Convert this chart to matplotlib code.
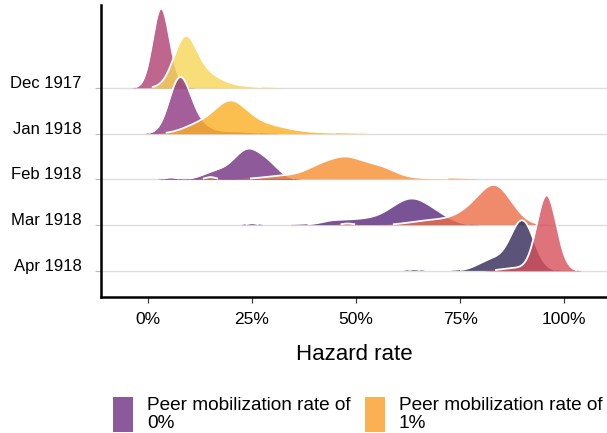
import numpy as np
import matplotlib.pyplot as plt
from matplotlib.patches import Rectangle

plt.rcParams['font.family'] = ['Liberation Sans', 'DejaVu Sans']

# Rows, top to bottom
months = ["Dec 1917", "Jan 1918", "Feb 1918", "Mar 1918", "Apr 1918"]

# density bumps per row: (centre, sd, height in row units)
dens_0pct = [
    [(0.031, 0.02, 1.7), (0.06, 0.02, 0.1)],
    [(0.075, 0.025, 1.1), (0.11, 0.03, 0.25), (0.2, 0.05, 0.05)],
    [(0.24, 0.035, 0.65), (0.295, 0.025, 0.2), (0.16, 0.03, 0.15), (0.055, 0.015, 0.04)],
    [(0.635, 0.05, 0.57), (0.5, 0.06, 0.12), (0.71, 0.03, 0.05),
     (0.25, 0.012, 0.04), (0.44, 0.02, 0.03)],
    [(0.9, 0.028, 1.07), (0.83, 0.035, 0.25), (0.64, 0.012, 0.035)],
]
dens_1pct = [
    [(0.088, 0.027, 0.95), (0.13, 0.04, 0.3), (0.2, 0.06, 0.04)],
    [(0.195, 0.04, 0.62), (0.115, 0.035, 0.15), (0.27, 0.06, 0.2), (0.42, 0.06, 0.02)],
    [(0.475, 0.04, 0.43), (0.41, 0.035, 0.2), (0.33, 0.05, 0.08), (0.555, 0.04, 0.25),
     (0.15, 0.012, 0.05), (0.68, 0.06, 0.025)],
    [(0.835, 0.04, 0.82), (0.77, 0.04, 0.2), (0.68, 0.05, 0.1), (0.48, 0.015, 0.035)],
    [(0.958, 0.024, 1.65), (0.88, 0.03, 0.06)],
]

colors_0pct = ["#b04073", "#8d3681", "#723181", "#59277c", "#332956"]
colors_1pct = ["#f6d656", "#fbb024", "#f78f31", "#eb6d45", "#d6505a"]

xticks = [0, 0.25, 0.5, 0.75, 1.0]
xticklabels = ["0%", "25%", "50%", "75%", "100%"]

legend_labels = ["Peer mobilization rate of\n0%", "Peer mobilization rate of\n1%"]
legend_colors = ["#8b5a9a", "#fbb053"]

x = np.linspace(-0.12, 1.12, 1500)


def density(bumps):
    return sum(h * np.exp(-0.5 * ((x - c) / s) ** 2) for c, s, h in bumps)


fig = plt.figure(figsize=(6.07, 4.33), dpi=100)
ax = fig.add_axes([0.1664, 0.3141, 0.8336, 0.6744])

n = len(months)
z = 2
for i, m in enumerate(months):
    base = n - 1 - i
    ax.axhline(base, color="#dedede", lw=1, zorder=1)
    for bumps, col in ((dens_0pct[i], colors_0pct[i]), (dens_1pct[i], colors_1pct[i])):
        d = density(bumps)
        mask = d > 0.02
        y = base + d
        ax.fill_between(x, base, y, where=d > 0.004, color=col, alpha=0.8, lw=0, zorder=z)
        ax.plot(x, np.where(mask, y, np.nan), color="white", lw=1.3, zorder=z + 0.5)
        z += 1

ax.set_xlim(-0.113, 1.103)
ax.set_ylim(-0.57, 5.81)
ax.set_yticks(range(n))
ax.set_yticklabels(months[::-1])
for t in ax.get_yticklabels():
    t.set_va("baseline")
ax.set_xticks(xticks)
ax.set_xticklabels(xticklabels)
ax.tick_params(axis="y", length=4, color="#bbbbbb", labelsize=12, pad=10)
ax.tick_params(axis="x", length=4, color="#333333", labelsize=12.5, pad=7)
for s in ["top", "right"]:
    ax.spines[s].set_visible(False)
for s in ["left", "bottom"]:
    ax.spines[s].set_linewidth(1.8)
    ax.spines[s].set_color("black")
ax.set_xlabel("Hazard rate", fontsize=16, labelpad=12)

# legend drawn by hand at the bottom
lx = [113, 365]
for k in range(2):
    fig.add_artist(Rectangle((lx[k] / 607, 1 / 433), 20 / 607, 35 / 433,
                             transform=fig.transFigure, color=legend_colors[k], lw=0))
    fig.text((lx[k] + 34) / 607, (433 - 397) / 433, legend_labels[k],
             fontsize=13.7, va="top", ha="left", linespacing=1.08)

fig.savefig("out.png", dpi=100)
